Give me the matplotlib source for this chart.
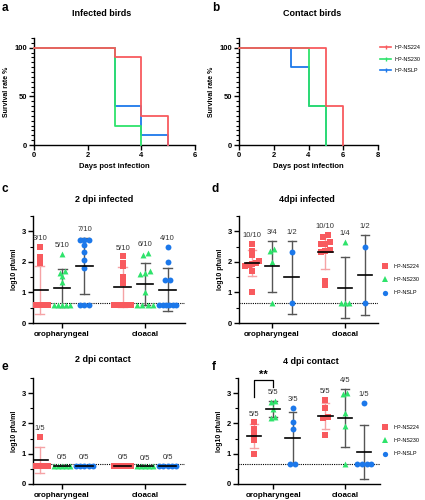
import numpy as np
import matplotlib
matplotlib.use("Agg")
import matplotlib.pyplot as plt
from matplotlib.lines import Line2D
from matplotlib.ticker import MultipleLocator

plt.rcParams['font.family'] = ['Liberation Sans', 'DejaVu Sans']

# ---------------- data ----------------
series = ["HP-NS224", "HP-NS230", "HP-NSLP"]
colors = ["#F85A5E", "#2EE36B", "#1C78EA"]
err_colors = ["#F5A3A5", "#555555", "#555555"]
markers = ["s", "^", "o"]
categories = ["oropharyngeal", "cloacal"]
LOD = 0.65

# survival (day, % surviving) step points
inf_t = [[0, 3, 4, 5], [0, 3, 4], [0, 3, 4, 5]]
inf_s = [[100, 90, 30, 0], [100, 20, 0], [100, 40, 10, 0]]
con_t = [[0, 5, 6], [0, 4, 5], [0, 3, 4, 5]]
con_s = [[100, 40, 0], [100, 40, 0], [100, 80, 40, 0]]

# viral titres log10 pfu/ml
c_oro = [[2.5, 2.15, 1.97, 0.6, 0.6, 0.6, 0.6, 0.6, 0.6, 0.6],
         [2.25, 1.7, 1.65, 1.55, 1.35, 0.6, 0.6, 0.6, 0.6, 0.6],
         [2.7, 2.7, 2.7, 2.55, 2.33, 2.05, 1.79, 0.6, 0.6, 0.6]]
c_clo = [[2.18, 1.96, 1.85, 1.5, 1.31, 0.6, 0.6, 0.6, 0.6, 0.6],
         [2.3, 2.22, 1.7, 1.64, 1.6, 1.0, 0.6, 0.6, 0.6, 0.6],
         [2.5, 2.0, 1.4, 1.4, 0.6, 0.6, 0.6, 0.6, 0.6, 0.6]]
c_counts = [["3/10", "5/10", "7/10"], ["5/10", "6/10", "4/10"]]

d_oro = [[2.58, 2.36, 2.22, 2.03, 1.97, 1.93, 1.9, 1.85, 1.7, 1.0],
         [2.42, 2.36, 1.98, 0.65],
         [2.33, 0.65]]
d_clo = [[2.88, 2.82, 2.65, 2.6, 2.58, 2.4, 2.35, 2.32, 1.38, 1.25],
         [2.65, 0.65, 0.65, 0.65],
         [2.5, 0.65]]
d_counts = [["10/10", "3/4", "1/2"], ["10/10", "1/4", "1/2"]]

e_oro = [[1.55, 0.6, 0.6, 0.6, 0.6],
         [0.6, 0.6, 0.6, 0.6, 0.6],
         [0.6, 0.6, 0.6, 0.6, 0.6]]
e_clo = [[0.6, 0.6, 0.6, 0.6, 0.6],
         [0.58, 0.58, 0.58, 0.58, 0.58],
         [0.6, 0.6, 0.6, 0.6, 0.6]]
e_counts = [["1/5", "0/5", "0/5"], ["0/5", "0/5", "0/5"]]

f_oro = [[2.04, 1.83, 1.65, 1.45, 1.0],
         [2.75, 2.72, 2.48, 2.22, 2.18],
         [2.52, 2.05, 1.8, 0.65, 0.65]]
f_clo = [[2.78, 2.5, 2.22, 2.17, 1.62],
         [3.0, 2.98, 2.33, 1.92, 0.65],
         [2.67, 0.65, 0.65, 0.65, 0.65]]
f_counts = [["5/5", "5/5", "3/5"], ["5/5", "4/5", "1/5"]]

# ---------------- layout ----------------
W, H = 425, 500
fig = plt.figure(figsize=(W / 100, H / 100), dpi=100)


def add_axes(l, r, t, b):
    return fig.add_axes([l / W, 1 - b / H, (r - l) / W, (b - t) / H])


def ftext(x, y, s, **kw):
    fig.text(x / W, 1 - y / H, s, **kw)


def style(ax):
    for s in ['top', 'right']:
        ax.spines[s].set_visible(False)
    for s in ['left', 'bottom']:
        ax.spines[s].set_linewidth(1.0)
    ax.tick_params(axis='both', which='major', length=3.5, width=1.0,
                   labelsize=5.5, pad=1.5)
    ax.tick_params(axis='y', which='minor', length=2, width=0.8)
    ax.tick_params(axis='x', which='minor', length=0)
    for lab in ax.get_xticklabels() + ax.get_yticklabels():
        lab.set_fontweight('bold')


def survival(ax, ts, ss, xmax):
    for i in [2, 1, 0]:
        ax.step(ts[i], ss[i], where='post', color=colors[i], lw=1.3,
                clip_on=False, zorder=3 + (2 - i))
    ax.set_xlim(0, xmax)
    ax.set_ylim(0, 110)
    ax.set_xticks(np.arange(0, xmax + 1, 2))
    ax.set_yticks([0, 50, 100])
    ax.yaxis.set_minor_locator(MultipleLocator(5))
    ax.set_xlabel("Days post infection", fontsize=5.5, fontweight='bold', labelpad=3)
    ax.set_ylabel("Survival rate %", fontsize=5, fontweight='bold', labelpad=3)
    style(ax)


def swarm(v, x0):
    order = np.argsort(v)
    xs = np.full(len(v), x0, float)
    clusters = []
    cur = [order[0]]
    for i in order[1:]:
        if v[i] - v[cur[-1]] < 0.09:
            cur.append(i)
        else:
            clusters.append(cur)
            cur = [i]
    clusters.append(cur)
    for cl in clusters:
        k = len(cl)
        dx = 0.06 if k <= 3 else 0.2 / (k - 1)
        for j, idx in enumerate(cl):
            xs[idx] = x0 + (j - (k - 1) / 2) * dx
    return xs


def dotplot(ax, groups, counts, xlim, off=0.27):
    for ci, cat in enumerate(groups):
        for si, vals in enumerate(cat):
            x0 = ci + (si - 1) * off
            v = np.array(vals, float)
            m = v.mean()
            sd = v.std(ddof=1)
            ax.plot([x0, x0], [m - sd, m + sd], color=err_colors[si], lw=1.0, zorder=2)
            for yy in (m - sd, m + sd):
                ax.plot([x0 - 0.055, x0 + 0.055], [yy, yy], color=err_colors[si],
                        lw=1.0, zorder=2)
            xs = swarm(v, x0)
            ax.scatter(xs, v, marker=markers[si], s=18, color=colors[si],
                       linewidths=0, zorder=3)
            ax.plot([x0 - 0.1, x0 + 0.1], [m, m], color='black', lw=1.2, zorder=4)
            ax.text(x0, max(v.max(), m + sd) + 0.27, counts[ci][si], ha='center',
                    va='center', fontsize=5.5, color='#333333')
    ax.axhline(LOD, color='black', ls=(0, (1, 1)), lw=0.8, zorder=1)
    ax.set_xlim(*xlim)
    ax.set_ylim(0, 3.5)
    ax.set_xticks([0, 1])
    ax.set_xticklabels(categories)
    ax.set_yticks([0, 1, 2, 3])
    ax.yaxis.set_minor_locator(MultipleLocator(0.5))
    ax.set_ylabel("log10 pfu/ml", fontsize=5, fontweight='bold', labelpad=3)
    style(ax)
    ax.tick_params(axis='x', labelsize=5.8, pad=2)


axa = add_axes(34, 195, 38, 145)
axb = add_axes(239, 378, 38, 145)
axc = add_axes(33, 185, 216, 323)
axd = add_axes(239, 378, 216, 323)
axe = add_axes(33, 185, 378, 484)
axf = add_axes(238, 380, 378, 484)

survival(axa, inf_t, inf_s, 6)
survival(axb, con_t, con_s, 8)

dotplot(axc, [c_oro, c_clo], c_counts, (-0.35, 1.48))
dotplot(axd, [d_oro, d_clo], d_counts, (-0.45, 1.45))
dotplot(axe, [e_oro, e_clo], e_counts, (-0.35, 1.48))
dotplot(axf, [f_oro, f_clo], f_counts, (-0.49, 1.49))

# significance bracket in f
bx0, bx1 = -0.27, 0.0
axf.plot([bx0, bx0, bx1, bx1], [2.88, 3.43, 3.43, 3.2], color='black', lw=0.9,
         clip_on=False)
axf.text((bx0 + bx1) / 2, 3.6, "**", ha='center', va='center', fontsize=8,
         fontweight='bold')

# legends
leg_lines = [Line2D([], [], color=colors[i], lw=1.2, marker='|', markersize=3)
             for i in range(3)]
fig.legend(leg_lines, series, loc='upper left', bbox_to_anchor=(378 / W, 1 - 43 / H),
           fontsize=3.9, frameon=False, handlelength=2.0, handletextpad=0.7,
           labelspacing=1.2, borderaxespad=0)
leg_marks = [Line2D([], [], ls='none', marker=markers[i], color=colors[i],
                    markersize=3.8, markeredgewidth=0) for i in range(3)]
for ytop in (262, 423):
    fig.legend(leg_marks, series, loc='upper left', bbox_to_anchor=(380 / W, 1 - ytop / H),
               fontsize=3.9, frameon=False, handlelength=1.0, handletextpad=1.0,
               labelspacing=1.5, borderaxespad=0)

# titles
tkw = dict(ha='center', va='center', fontsize=6.5, fontweight='bold')
ftext(102, 14, "Infected birds", **tkw)
ftext(312, 14, "Contact birds", **tkw)
ftext(104, 199, "2 dpi infected", **tkw)
ftext(307, 199, "4dpi infected", **tkw)
ftext(103, 360, "2 dpi contact", **tkw)
ftext(311, 361, "4 dpi contact", **tkw)

lkw = dict(ha='left', va='center', fontsize=8.5, fontweight='bold')
ftext(2, 8, "a", **lkw)
ftext(212, 8, "b", **lkw)
ftext(2, 189, "c", **lkw)
ftext(212, 189, "d", **lkw)
ftext(2, 367, "e", **lkw)
ftext(212, 367, "f", **lkw)

fig.savefig("out.png", dpi=100)
